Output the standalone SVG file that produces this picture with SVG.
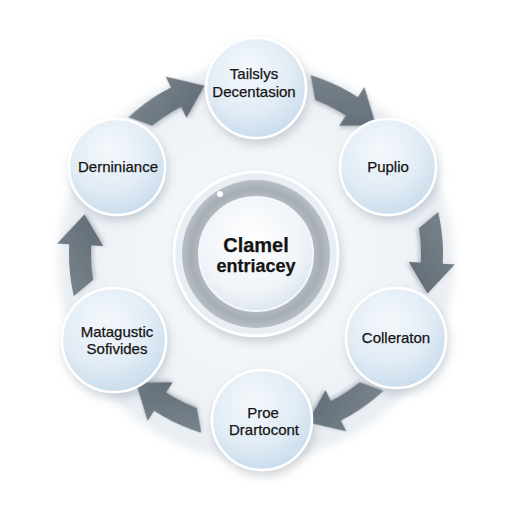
<svg xmlns="http://www.w3.org/2000/svg" width="512" height="512" viewBox="0 0 512 512">
<defs>
<radialGradient id="bg" cx="50%" cy="48%" r="50%">
<stop offset="0" stop-color="#f8fafc"/>
<stop offset="0.75" stop-color="#eff3f7"/>
<stop offset="1" stop-color="#e9eef3"/>
</radialGradient>
<radialGradient id="node" cx="42%" cy="32%" r="70%">
<stop offset="0" stop-color="#f4f8fc"/>
<stop offset="0.6" stop-color="#e2ecf5"/>
<stop offset="1" stop-color="#c9dcec"/>
</radialGradient>
<radialGradient id="ring" cx="50%" cy="50%" r="50%">
<stop offset="0.72" stop-color="#b9bfc6"/>
<stop offset="0.88" stop-color="#a6adb5"/>
<stop offset="1" stop-color="#b8bec5"/>
</radialGradient>
<radialGradient id="inner" cx="45%" cy="38%" r="65%">
<stop offset="0" stop-color="#ffffff"/>
<stop offset="0.7" stop-color="#f0f4f8"/>
<stop offset="1" stop-color="#dbe5ee"/>
</radialGradient>
<linearGradient id="arr" x1="0" y1="0" x2="1" y2="1">
<stop offset="0" stop-color="#7d8790"/>
<stop offset="1" stop-color="#5f6a74"/>
</linearGradient>
<filter id="sh" x="-30%" y="-30%" width="160%" height="160%">
<feDropShadow dx="2" dy="5" stdDeviation="5" flood-color="#7a8896" flood-opacity="0.35"/>
</filter>
<filter id="sh2" x="-20%" y="-20%" width="140%" height="140%">
<feDropShadow dx="1" dy="2" stdDeviation="2" flood-color="#56606a" flood-opacity="0.35"/>
</filter>
<filter id="blur" x="-10%" y="-10%" width="120%" height="120%">
<feGaussianBlur stdDeviation="4"/>
</filter>
<path id="arrow" d="M213.9,71.8 A187,187 0 0 1 265.8,67.3 L266.4,55.3 L295.6,82.5 L264.0,101.2 L264.6,89.2 A165,165 0 0 0 230.2,91.0 Z"/>
</defs>
<style>
.node{fill:url(#node);stroke:#ffffff;stroke-width:2.5;filter:url(#sh)}
.lbl{font-family:"Liberation Sans",Arial,sans-serif;font-size:15px;fill:#141414;text-anchor:middle;stroke:#141414;stroke-width:0.25}
.arrow{fill:url(#arr);filter:url(#sh2)}
</style>
<rect width="512" height="512" fill="#ffffff"/>
<circle cx="256" cy="262" r="198" fill="url(#bg)" filter="url(#blur)"/>
<g id="connectors">
<use href="#arrow" class="arrow" transform="rotate(-30 256 254)"/>
<use href="#arrow" class="arrow" transform="rotate(30 256 254)"/>
<use href="#arrow" class="arrow" transform="rotate(90 256 254)"/>
<use href="#arrow" class="arrow" transform="rotate(150 256 254)"/>
<use href="#arrow" class="arrow" transform="rotate(210 256 254)"/>
<use href="#arrow" class="arrow" transform="rotate(270 256 254)"/>
</g>
<g id="center">
<circle cx="256" cy="254" r="82" fill="#e8eef4" stroke="#ffffff" stroke-width="2.5" filter="url(#sh)"/>
<circle cx="256" cy="254" r="74" fill="url(#ring)"/>
<circle cx="256" cy="254" r="57" fill="url(#inner)" stroke="#f4f6f9" stroke-width="2"/>
<circle cx="220" cy="194" r="3" fill="#ffffff"/>
<text class="lbl" x="256" y="252" style="font-size:20px;font-weight:bold">Clamel</text>
<text class="lbl" x="256" y="272" style="font-size:18px;font-weight:bold">entriacey</text>
</g>
<g id="n-top">
<circle class="node" cx="256" cy="88" r="50"/>
<text class="lbl" x="254" y="79">Tailslys</text>
<text class="lbl" x="254" y="97">Decentasion</text>
</g>
<g id="n-puplio">
<circle class="node" cx="388" cy="167" r="48"/>
<text class="lbl" x="388" y="172">Puplio</text>
</g>
<g id="n-colleraton">
<circle class="node" cx="396" cy="338" r="50"/>
<text class="lbl" x="396" y="343">Colleraton</text>
</g>
<g id="n-proe">
<circle class="node" cx="262" cy="420" r="50"/>
<text class="lbl" x="263" y="418">Proe</text>
<text class="lbl" x="264" y="435">Drartocont</text>
</g>
<g id="n-matagustic">
<circle class="node" cx="114" cy="340" r="52"/>
<text class="lbl" x="117" y="337">Matagustic</text>
<text class="lbl" x="117" y="354">Sofivides</text>
</g>
<g id="n-derniniance">
<circle class="node" cx="117" cy="167" r="48"/>
<text class="lbl" x="118" y="172">Derniniance</text>
</g>
</svg>
